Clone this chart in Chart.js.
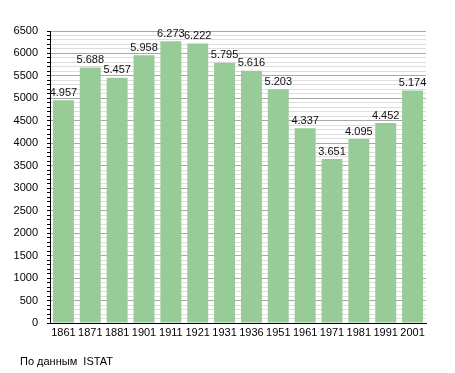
<!DOCTYPE html>
<html>
<head>
<meta charset="utf-8">
<script src="https://cdn.jsdelivr.net/npm/chart.js@4"></script>
<style>
  body { margin: 0; background: #fff; }
  #wrap { position: relative; width: 455px; height: 373px; }
  #source { position: absolute; left: 20px; top: 355px; font: 11px "Liberation Sans", Arial, sans-serif; color: #000; }
</style>
</head>
<body>
<div id="wrap">
  <canvas id="myChart" width="455" height="373"></canvas>
  <div id="source">По данным&nbsp; ISTAT</div>
</div>
<script>
'use strict'
const years = ["1861", "1871", "1881", "1901", "1911", "1921", "1931", "1936", "1951", "1961", "1971", "1981", "1991", "2001"]
const population = [4957, 5688, 5457, 5958, 6273, 6222, 5795, 5616, 5203, 4337, 3651, 4095, 4452, 5174]

// numbers like 4.957 (dot as thousands separator)
function fmt(v) {
    const s = String(v)
    return s.length > 3 ? s.slice(0, s.length - 3) + "." + s.slice(-3) : s
}

const valueLabels = {
    id: "valueLabels",
    afterDatasetsDraw(chart) {
        const ctx = chart.ctx
        const meta = chart.getDatasetMeta(0)
        ctx.save()
        ctx.font = '11px "Liberation Sans", Arial, sans-serif'
        ctx.fillStyle = "#111"
        ctx.textAlign = "center"
        ctx.textBaseline = "bottom"
        meta.data.forEach(function (bar, i) {
            ctx.fillText(fmt(population[i]), bar.x, bar.y - 2)
        })
        ctx.restore()
    }
}

const config = {
    type: "bar",
    data: {
        labels: years,
        datasets: [{
            data: population,
            backgroundColor: "#97cb97",
            borderWidth: 0,
            barPercentage: 0.78,
            categoryPercentage: 1
        }]
    },
    options: {
        responsive: false,
        animation: false,
        layout: { padding: { top: 31, right: 29, left: 0, bottom: 0 } },
        plugins: { legend: { display: false }, tooltip: { enabled: false } },
        scales: {
            x: {
                grid: { display: false, drawTicks: false, tickLength: 0 },
                border: { color: "#000", width: 1 },
                ticks: { color: "#000", autoSkip: false, font: { family: '"Liberation Sans", Arial, sans-serif', size: 11 }, padding: 3, maxRotation: 0 },
                afterFit(scale) { scale.height = 50 }
            },
            y: {
                min: 0,
                max: 6500,
                border: { color: "#000", width: 1 },
                grid: {
                    color: function (c) { return c.tick && c.tick.value % 500 === 0 ? "#a8a8a8" : "#dedede" },
                    tickColor: "#000",
                    tickLength: 3
                },
                ticks: {
                    stepSize: 100,
                    autoSkip: false,
                    color: "#000",
                    padding: 9,
                    font: { family: '"Liberation Sans", Arial, sans-serif', size: 11 },
                    callback: function (v) { return v % 500 === 0 ? String(v) : "" }
                },
                afterFit(scale) { scale.width = 50 }
            }
        }
    },
    plugins: [valueLabels]
}

const myChart = new Chart(document.getElementById("myChart"), config)
</script>
</body>
</html>
